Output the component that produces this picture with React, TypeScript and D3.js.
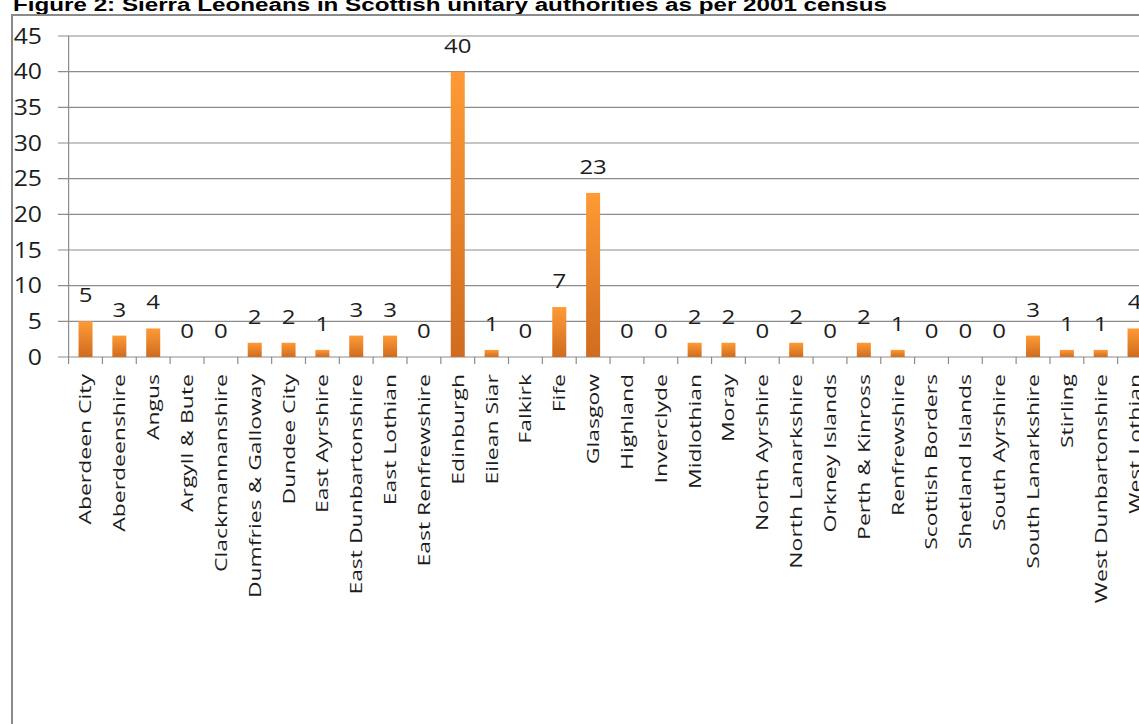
import React from "react";
import * as d3 from "d3";

const categories = [
  "Aberdeen City", "Aberdeenshire", "Angus", "Argyll & Bute", "Clackmannanshire",
  "Dumfries & Galloway", "Dundee City", "East Ayrshire", "East Dunbartonshire", "East Lothian",
  "East Renfrewshire", "Edinburgh", "Eilean Siar", "Falkirk", "Fife", "Glasgow", "Highland",
  "Inverclyde", "Midlothian", "Moray", "North Ayrshire", "North Lanarkshire", "Orkney Islands",
  "Perth & Kinross", "Renfrewshire", "Scottish Borders", "Shetland Islands", "South Ayrshire",
  "South Lanarkshire", "Stirling", "West Dunbartonshire", "West Lothian",
];
const values = [5, 3, 4, 0, 0, 2, 2, 1, 3, 3, 0, 40, 1, 0, 7, 23, 0, 0, 2, 2, 0, 2, 0, 2, 1, 0, 0, 0, 3, 1, 1, 4];
const yTicks = [0, 5, 10, 15, 20, 25, 30, 35, 40, 45];
const title = "Figure 2: Sierra Leoneans in Scottish unitary authorities as per 2001 census";

const W = 1139;
const H = 724;
const FONT = "'Open Sans', 'DejaVu Sans', sans-serif";

export default function App() {
  const x0 = 68.6;
  const step = 33.84;
  const x = d3
    .scaleBand<string>()
    .domain(categories)
    .range([x0, x0 + step * categories.length])
    .paddingInner(0.586)
    .paddingOuter(0.293);
  const y = d3.scaleLinear().domain([0, 45]).range([357, 36]);
  const gridColor = "#8c8c8c";
  const textColor = "#1c1c1c";

  return (
    <svg width={W} height={H} style={{ position: "absolute", left: 0, top: 0, background: "#fff" }}>
      <defs>
        <linearGradient id="barGrad" x1="0" y1="0" x2="0" y2="1">
          <stop offset="0%" stopColor="#FF9A36" />
          <stop offset="100%" stopColor="#CF6C1F" />
        </linearGradient>
      </defs>
      <rect x={0} y={0} width={W} height={H} fill="#fff" />
      {/* title */}
      <text
        x={13}
        y={10.5}
        fontFamily="'Liberation Sans', Arial, sans-serif"
        fontWeight="bold"
        fontSize={18}
        fill="#000"
        textLength={874}
        lengthAdjust="spacingAndGlyphs"
      >
        {title}
      </text>
      {/* frame */}
      <rect x={12} y={15} width={W + 20} height={H + 20} fill="none" stroke="#8a8a8a" strokeWidth={2} />
      {/* gridlines */}
      {yTicks.map((t) => (
        <line key={"g" + t} x1={58} x2={W + 20} y1={y(t)} y2={y(t)} stroke={gridColor} strokeWidth={1.2} />
      ))}
      {/* y axis line */}
      <line x1={x0} x2={x0} y1={y(45)} y2={364} stroke={gridColor} strokeWidth={1.2} />
      {/* category ticks */}
      {categories.map((c, i) => (
        <line
          key={"t" + c}
          x1={(x(c) as number) - x.step() * x.paddingOuter() + x.step()}
          x2={(x(c) as number) - x.step() * x.paddingOuter() + x.step()}
          y1={y(0)}
          y2={364}
          stroke={gridColor}
          strokeWidth={1.2}
        />
      ))}
      {/* y labels */}
      {yTicks.map((t) => (
        <text
          key={"yl" + t}
          transform={`translate(42, ${y(t) + 7.5}) scale(1.18,1)`}
          textAnchor="end"
          fontFamily={FONT}
          fontSize={21}
          fill={textColor}
        >
          {t}
        </text>
      ))}
      {/* bars */}
      {categories.map((c, i) => (
        <rect
          key={"b" + c}
          x={x(c)}
          y={y(values[i])}
          width={x.bandwidth()}
          height={y(0) - y(values[i])}
          fill="url(#barGrad)"
        />
      ))}
      {/* value labels */}
      {categories.map((c, i) => (
        <text
          key={"v" + c}
          transform={`translate(${(x(c) as number) + x.bandwidth() / 2}, ${y(values[i]) - 19}) scale(1.2,1)`}
          textAnchor="middle"
          fontFamily={FONT}
          fontSize={20}
          fill={textColor}
        >
          {values[i]}
        </text>
      ))}
      {/* category labels */}
      {categories.map((c) => (
        <text
          key={"c" + c}
          transform={`translate(${(x(c) as number) + x.bandwidth() / 2}, 374) rotate(-90) scale(1.35,1)`}
          textAnchor="end"
          dy="0.35em"
          fontFamily={FONT}
          fontSize={17}
          fill={textColor}
        >
          {c}
        </text>
      ))}
    </svg>
  );
}
